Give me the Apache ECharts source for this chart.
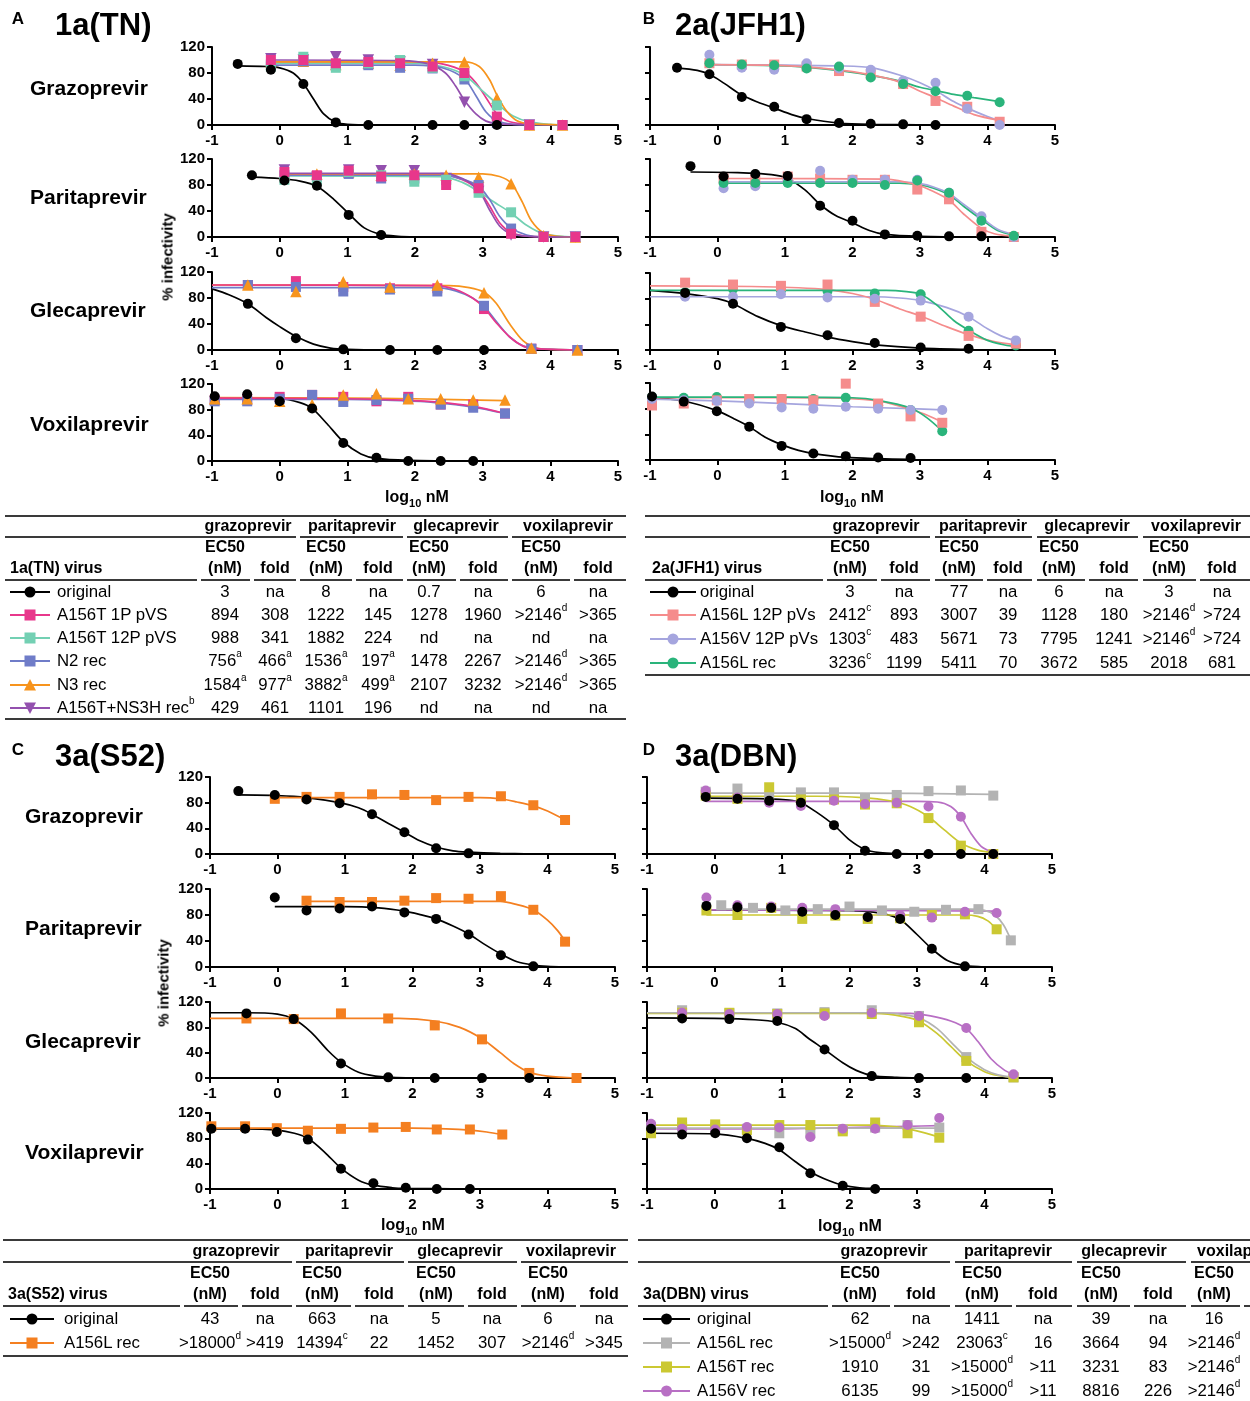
<!DOCTYPE html>
<html><head><meta charset="utf-8">
<script src="https://cdn.jsdelivr.net/npm/echarts/dist/echarts.min.js"></script>
<style>
html,body{margin:0;padding:0;background:#fff;}
body{width:1250px;height:1401px;overflow:hidden;position:relative;font-family:"Liberation Sans",Arial,sans-serif;color:#000;}
#chart{position:absolute;left:0;top:0;width:1250px;height:1401px;}
.t{position:absolute;white-space:nowrap;line-height:1;}
.c{transform:translate(-50%,-50%);}
.l{transform:translate(0,-50%);}
.b{font-weight:bold;}
.hl{position:absolute;background:#3a3a3a;}
sup{font-size:10px;vertical-align:top;position:relative;top:-4px;}
sub{font-size:11px;vertical-align:bottom;position:relative;top:4px;}
</style></head><body><div id="chart"></div><div id="ov"></div>
<script>
// ================= DATA =================
// ---- Panel A 1a(TN) ----
const xA_g_o=[-0.62,-0.13,0.35,0.83,1.31,2.26,2.73,3.21];
const yA_g_o=[94,85,63,4,0,0,0,0];
const cA_g_o=[[-0.62,91],[-0.2,90],[0,88],[0.2,80],[0.35,64],[0.5,40],[0.65,17],[0.83,4],[1.0,1],[1.4,0]];
const xA_g=[-0.13,0.35,0.83,1.31,1.78,2.26,2.73,3.21,3.69,4.18];
const yA_g_pink=[100,100,95,97,95,90,80,13,0,0];
const yA_g_teal=[90,105,88,95,100,88,75,30,0,0];
const yA_g_blue=[93,98,92,92,88,87,70,3,0,0];
const yA_g_orng=[97,98,93,95,92,95,97,41,0,0];
const yA_g_purp=[102,100,105,100,97,93,35,2,0,null];
const cA_g_pink=[[-0.13,97],[2.0,97],[2.4,94],[2.73,82],[2.9,65],[3.05,42],[3.22,16],[3.4,5],[3.69,1],[4.18,0]];
const cA_g_teal=[[-0.13,95],[2.0,95],[2.4,90],[2.73,77],[3.0,52],[3.22,32],[3.45,14],[3.69,5],[4.0,1],[4.18,0]];
const cA_g_blue=[[-0.13,92],[2.0,92],[2.4,88],[2.73,71],[2.9,45],[3.05,20],[3.22,6],[3.45,1],[3.69,0],[4.18,0]];
const cA_g_orng=[[-0.13,97],[2.73,97],[2.95,90],[3.1,70],[3.22,44],[3.35,22],[3.5,7],[3.69,2],[4.18,0]];
const cA_g_purp=[[-0.13,100],[1.8,99],[2.2,94],[2.45,80],[2.6,60],[2.73,38],[2.9,17],[3.05,6],[3.22,2],[3.69,0]];

const xA_p_o=[-0.41,0.07,0.55,1.02,1.50];
const yA_p_o=[95,87,79,34,3];
const cA_p_o=[[-0.41,92],[0,90],[0.3,86],[0.55,78],[0.8,58],[1.02,36],[1.25,14],[1.5,4],[1.75,1],[2.0,0]];
const xA_p=[0.07,0.55,1.02,1.50,1.99,2.46,2.94,3.42,3.90,4.37];
const yA_p_pink=[100,95,102,93,95,80,75,5,0,0];
const yA_p_teal=[88,88,100,95,85,88,68,38,0,0];
const yA_p_blue=[95,93,97,90,90,88,80,13,0,0];
const yA_p_orng=[97,97,100,95,97,95,92,82,2,0];
const yA_p_purp=[103,92,103,102,102,90,70,3,0,0];
const cA_p_pink=[[0.07,97],[2.4,96],[2.7,88],[2.94,72],[3.1,48],[3.25,22],[3.42,7],[3.7,1],[4.37,0]];
const cA_p_teal=[[0.07,94],[2.4,93],[2.7,84],[2.94,70],[3.15,55],[3.42,37],[3.65,18],[3.9,5],[4.37,0]];
const cA_p_blue=[[0.07,95],[2.4,95],[2.7,89],[2.94,78],[3.1,58],[3.25,32],[3.42,14],[3.65,3],[3.9,0],[4.37,0]];
const cA_p_orng=[[0.07,97],[3.0,97],[3.25,93],[3.42,83],[3.58,55],[3.72,25],[3.9,6],[4.1,1],[4.37,0]];
const cA_p_purp=[[0.07,98],[2.4,98],[2.7,90],[2.94,72],[3.1,42],[3.25,17],[3.42,5],[3.7,1],[4.37,0]];

const xA_l_o=[-0.47,0.24,0.94,1.63,2.33,3.02];
const yA_l_o=[71,18,1,0,0,0];
const cA_l_o=[[-1,94],[-0.75,85],[-0.47,71],[-0.2,50],[0,36],[0.24,21],[0.5,9],[0.75,3],[1.0,1],[1.5,0],[3.02,0]];
const xA_l=[-0.47,0.24,0.94,1.63,2.33,3.02,3.72,4.40];
const yA_l_pink=[100,106,97,95,95,63,2,0];
const yA_l_blue=[100,97,90,93,90,68,2,0];
const yA_l_orng=[100,90,105,97,100,88,3,0];
const cA_l_pink=[[-1,100],[2.3,99],[2.6,93],[2.85,80],[3.02,65],[3.2,42],[3.4,20],[3.6,6],[3.8,2],[4.40,0]];
const cA_l_blue=[[-1,96],[2.3,96],[2.6,91],[2.85,80],[3.02,67],[3.2,44],[3.4,20],[3.6,6],[3.8,2],[4.40,0]];
const cA_l_orng=[[-1,100],[2.5,99],[2.8,96],[3.02,89],[3.2,72],[3.4,40],[3.6,14],[3.8,3],[4.0,1],[4.40,0]];

const xA_v_o=[-0.96,-0.48,0,0.48,0.94,1.43,1.90,2.38,2.86];
const yA_v_o=[101,104,93,82,28,5,0,0,0];
const cA_v_o=[[-0.96,98],[0,97],[0.3,91],[0.48,82],[0.7,58],[0.94,30],[1.2,11],[1.43,4],[1.9,1],[2.86,0]];
const xA_v=[-0.96,-0.48,0,0.48,0.94,1.43,1.90,2.38,2.86,3.33];
const yA_v_pink=[95,97,100,103,100,93,100,88,88,74];
const yA_v_blue=[93,93,97,103,92,95,97,88,83,74];
const yA_v_orng=[97,97,93,88,103,105,97,97,95,95];
const cA_v_pink=[[-0.96,98],[1.0,97],[1.8,95],[2.3,92],[2.86,85],[3.33,74]];
const cA_v_blue=[[-0.96,96],[1.0,96],[1.8,94],[2.3,91],[2.86,84],[3.33,74]];
const cA_v_orng=[[-0.96,99],[1.0,98],[2.0,97],[3.33,94]];

// ---- Panel B 2a(JFH1) ----
const xB_g_o=[-0.60,-0.12,0.36,0.84,1.32,1.80,2.27,2.75,3.23];
const yB_g_o=[88,78,43,28,9,3,2,1,0];
const cB_g_o=[[-0.60,88],[-0.3,84],[-0.12,78],[0.1,64],[0.36,46],[0.6,35],[0.84,26],[1.1,16],[1.32,10],[1.8,3],[2.27,1],[3.23,0]];
const xB_g=[-0.12,0.36,0.84,1.32,1.80,2.27,2.75,3.23,3.70,4.18];
const yB_g_pink=[95,93,93,90,83,78,63,37,28,5];
const yB_g_lav=[108,88,85,95,87,85,68,65,25,0];
const yB_g_grn=[95,93,92,87,90,73,63,52,45,35];
const cB_g_pink=[[-0.12,93],[0.8,92],[1.5,88],[2.0,82],[2.5,72],[2.75,64],[3.0,52],[3.23,42],[3.5,29],[3.8,16],[4.18,7]];
const cB_g_lav=[[-0.12,93],[1.0,92],[1.8,91],[2.3,88],[2.75,75],[3.0,65],[3.23,53],[3.5,36],[3.7,26],[4.0,13],[4.18,6]];
const cB_g_grn=[[-0.12,93],[1.0,91],[1.5,87],[2.0,81],[2.5,72],[2.75,66],[3.0,58],[3.23,53],[3.5,47],[3.8,42],[4.18,36]];

const xB_p_o=[-0.40,0.09,0.56,1.04,1.52,2.00,2.48,2.96,3.43,3.91];
const yB_p_o=[109,93,97,94,48,25,4,2,1,1];
const cB_p_o=[[-0.40,100],[0.3,99],[0.8,96],[1.04,90],[1.3,72],[1.52,50],[1.75,33],[2.0,22],[2.25,10],[2.48,4],[3.0,1],[3.91,0]];
const xB_p=[0.09,0.56,1.04,1.52,2.00,2.48,2.96,3.43,3.91,4.39];
const yB_p_pink=[90,88,93,90,88,88,73,58,8,0];
const yB_p_lav=[75,78,88,102,88,88,88,68,32,0];
const yB_p_grn=[83,83,83,83,83,80,87,68,25,2];
const cB_p_pink=[[0.09,90],[2.5,89],[2.96,80],[3.2,70],[3.43,57],[3.65,35],[3.9,14],[4.1,5],[4.39,1]];
const cB_p_lav=[[0.09,85],[2.7,85],[3.0,82],[3.2,77],[3.43,67],[3.65,50],[3.91,30],[4.15,12],[4.39,4]];
const cB_p_grn=[[0.09,83],[2.7,83],[3.0,80],[3.2,75],[3.43,65],[3.65,47],[3.91,27],[4.15,10],[4.39,3]];

const xB_l_o=[-0.48,0.23,0.94,1.63,2.33,3.01,3.72];
const yB_l_o=[89,72,36,23,11,4,2];
const cB_l_o=[[-1,93],[-0.48,88],[0,80],[0.23,72],[0.6,52],[0.94,38],[1.3,28],[1.63,20],[2.0,13],[2.33,8],[3.01,3],[3.72,1]];
const xB_l=[-0.48,0.23,0.94,1.63,2.33,3.01,3.72,4.42];
const yB_l_pink=[105,102,100,102,75,52,22,10];
const yB_l_lav=[83,83,87,82,80,77,52,15];
const yB_l_grn=[90,95,93,92,88,87,30,7];
const cB_l_pink=[[-1,100],[0.5,99],[1.2,97],[1.63,94],[2.0,88],[2.33,79],[2.7,64],[3.01,53],[3.4,36],[3.72,24],[4.1,13],[4.42,8]];
const cB_l_lav=[[-1,83],[2.3,83],[2.7,81],[3.01,77],[3.4,66],[3.72,52],[4.0,33],[4.2,22],[4.42,14]];
const cB_l_grn=[[-1,93],[2.5,93],[2.8,91],[3.01,87],[3.25,70],[3.5,46],[3.72,31],[4.0,15],[4.2,9],[4.42,5]];

const xB_v_o=[-0.97,-0.50,-0.01,0.47,0.95,1.42,1.90,2.38,2.86];
const yB_v_o=[99,91,76,52,22,10,6,4,3];
const cB_v_o=[[-1,98],[-0.5,92],[-0.01,77],[0.25,64],[0.47,52],[0.7,36],[0.95,24],[1.2,15],[1.42,10],[1.9,4],[2.38,2],[2.86,1]];
const xB_v=[-0.97,-0.50,-0.01,0.47,0.95,1.42,1.90,2.38,2.86,3.33];
const yB_v_pink=[85,88,93,95,95,93,119,88,68,58];
const yB_v_lav=[95,93,92,88,82,80,83,80,78,78];
const yB_v_grn=[98,97,98,93,95,95,97,85,78,45];
const cB_v_pink=[[-0.97,97],[1.0,97],[1.9,96],[2.38,92],[2.7,84],[2.86,79],[3.1,70],[3.33,59]];
const cB_v_lav=[[-0.97,95],[0,92],[1.0,88],[2.0,83],[2.86,80],[3.33,78]];
const cB_v_grn=[[-0.97,98],[1.0,98],[2.0,97],[2.38,93],[2.86,81],[3.1,66],[3.33,45]];

// ---- Panel C 3a(S52) ----
const xC_g_o=[-0.58,-0.04,0.43,0.92,1.40,1.88,2.35,2.83];
const yC_g_o=[98,92,85,79,62,34,9,1];
const cC_g_o=[[-0.58,92],[0,91],[0.43,88],[0.92,80],[1.2,72],[1.4,62],[1.65,47],[1.88,34],[2.1,21],[2.35,11],[2.6,5],[2.83,3],[3.3,1],[3.8,0]];
const xC_g=[-0.04,0.43,0.92,1.40,1.88,2.35,2.83,3.31,3.79,4.26];
const yC_g_orng=[86,89,89,93,92,84,89,90,76,53];
const cC_g_orng=[[-0.04,88],[3.0,88],[3.31,86],[3.55,81],[3.79,75],[4.0,67],[4.26,53]];

const xC_p_o=[-0.04,0.43,0.92,1.40,1.88,2.35,2.83,3.31,3.79];
const yC_p_o=[107,87,90,93,84,74,50,18,1];
const cC_p_o=[[-0.04,93],[1.0,93],[1.5,91],[1.88,86],[2.1,81],[2.35,74],[2.6,63],[2.83,51],[3.05,36],[3.31,20],[3.55,8],[3.79,3],[4.0,1],[4.25,0]];
const xC_p=[0.43,0.92,1.40,1.88,2.35,2.83,3.31,3.79,4.26];
const yC_p_orng=[102,100,100,102,106,105,109,88,39];
const cC_p_orng=[[0.43,101],[3.3,101],[3.55,96],[3.79,88],[4.0,72],[4.15,56],[4.26,40]];

const xC_l_o=[-0.46,0.24,0.94,1.64,2.33,3.03,3.73];
const yC_l_o=[102,93,23,1,0,0,0];
const cC_l_o=[[-1,103],[-0.46,103],[0,101],[0.24,93],[0.5,72],[0.75,43],[0.94,25],[1.2,9],[1.45,3],[1.7,1],[2.0,0]];
const xC_l=[-0.46,0.24,0.94,1.64,2.33,3.03,3.73,4.43];
const yC_l_orng=[94,93,102,94,83,61,8,0];
const cC_l_orng=[[-1,94],[1.8,94],[2.33,90],[2.7,80],[3.03,62],[3.3,40],[3.5,23],[3.73,9],[4.0,3],[4.43,0]];

const xC_v_o=[-0.98,-0.48,-0.01,0.45,0.94,1.42,1.90,2.36,2.85];
const yC_v_o=[95,95,90,78,32,9,2,0,0];
const cC_v_o=[[-1,95],[-0.48,95],[0,93],[0.25,88],[0.45,80],[0.7,58],[0.94,33],[1.2,14],[1.42,6],[1.7,2],[1.9,1],[2.85,0]];
const xC_v=[-0.98,-0.48,-0.01,0.45,0.94,1.42,1.90,2.36,2.85,3.33];
const yC_v_orng=[99,99,96,92,95,97,98,94,94,86];
const cC_v_orng=[[-0.98,96],[2.0,96],[2.5,95],[2.85,93],[3.1,90],[3.33,86]];

// ---- Panel D 3a(DBN) ----
const xD_g_o=[-0.13,0.34,0.81,1.28,1.77,2.23,2.70,3.17,3.65,4.13];
const yD_g_o=[89,86,83,80,45,5,0,0,0,0];
const cD_g_o=[[-0.13,87],[0.8,86],[1.1,84],[1.28,80],[1.5,66],[1.77,45],[2.0,22],[2.23,7],[2.45,2],[2.7,0.5],[3.17,0]];
const xD_g=[-0.13,0.34,0.81,1.28,1.77,2.23,2.70,3.17,3.65,4.13];
const yD_g_grey=[97,102,90,96,96,87,92,98,99,91];
const yD_g_yel=[91,86,104,85,85,77,79,56,13,0];
const yD_g_pur=[99,88,80,75,83,78,80,74,58,0];
const cD_g_grey=[[-0.13,95],[2.0,95],[4.13,93]];
const cD_g_yel=[[-0.13,90],[1.5,90],[2.2,88],[2.6,83],[2.9,74],[3.17,58],[3.4,38],[3.65,17],[3.9,6],[4.13,2]];
const cD_g_pur=[[-0.13,82],[3.0,82],[3.3,81],[3.5,74],[3.65,58],[3.8,32],[3.95,12],[4.13,2]];

const xD_p_o=[-0.12,0.34,0.84,1.30,1.79,2.27,2.75,3.22,3.71];
const yD_p_o=[94,92,91,85,80,77,74,28,1];
const cD_p_o=[[-0.12,88],[1.5,87],[2.2,86],[2.5,82],[2.75,73],[3.0,50],[3.22,28],[3.45,10],[3.71,2],[4.0,0]];
const xD_p_g=[0.10,0.57,1.05,1.53,2.00,2.48,2.96,3.43,3.91,4.39];
const yD_p_grey=[95,91,87,89,93,87,85,88,89,41];
const xD_p=[-0.12,0.34,0.84,1.30,1.79,2.27,2.75,3.22,3.71,4.18];
const yD_p_yel=[87,80,91,74,79,74,75,80,81,58];
const yD_p_pur=[107,95,93,91,89,77,80,76,85,83];
const cD_p_grey=[[0.10,89],[3.8,89],[4.0,87],[4.15,80],[4.28,65],[4.39,42]];
const cD_p_yel=[[-0.12,80],[3.7,80],[3.9,78],[4.05,71],[4.18,58]];
const cD_p_pur=[[-0.12,88],[2.0,87],[4.18,86]];

const xD_l_o=[-0.48,0.22,0.93,1.63,2.33,3.03,3.73];
const yD_l_o=[94,93,90,45,3,0,0];
const cD_l_o=[[-1,95],[0,94],[0.6,92],[0.93,88],[1.2,78],[1.4,62],[1.63,45],[1.9,24],[2.1,12],[2.33,4],[2.7,1],[3.03,0]];
const xD_l=[-0.48,0.22,0.93,1.63,2.33,3.03,3.73,4.43];
const yD_l_grey=[107,102,102,104,107,98,33,1];
const yD_l_yel=[103,103,101,102,101,88,27,1];
const yD_l_pur=[103,101,101,98,103,98,79,6];
const cD_l_grey=[[-1,103],[2.5,103],[2.8,100],[3.03,95],[3.3,78],[3.5,57],[3.73,33],[4.0,13],[4.2,5],[4.43,1]];
const cD_l_yel=[[-1,102],[2.4,102],[2.8,97],[3.03,90],[3.3,70],[3.5,50],[3.73,27],[4.0,10],[4.2,4],[4.43,1]];
const cD_l_pur=[[-1,103],[2.9,102],[3.2,98],[3.5,90],[3.73,78],[3.9,58],[4.1,30],[4.3,12],[4.43,6]];

const xD_v_o=[-0.94,-0.48,0.01,0.48,0.96,1.42,1.90,2.38];
const yD_v_o=[95,86,88,80,66,25,5,0];
const cD_v_o=[[-1,88],[0,87],[0.48,80],[0.75,72],[0.96,62],[1.2,43],[1.42,27],[1.7,13],[1.9,6],[2.15,2],[2.38,1]];
const xD_v=[-0.94,-0.48,0.01,0.48,0.96,1.42,1.90,2.38,2.86,3.33];
const yD_v_grey=[98,98,97,95,88,88,94,97,101,97];
const yD_v_yel=[88,105,102,93,101,101,91,105,88,81];
const yD_v_pur=[103,95,94,98,97,82,95,95,101,112];
const cD_v_grey=[[-0.94,96],[3.33,96]];
const cD_v_yel=[[-0.94,101],[2.3,101],[2.7,98],[2.86,95],[3.1,89],[3.33,82]];
const cD_v_pur=[[-0.94,95],[1.0,95],[2.0,97],[2.86,99],[3.33,100]];

// ---- Tables ----
const drugs=['grazoprevir','paritaprevir','glecaprevir','voxilaprevir'];
const tA_names=['original','A156T 1P pVS','A156T 12P pVS','N2 rec','N3 rec','A156T+NS3H rec^b'];
const tA_vals=[
 ['3','na','8','na','0.7','na','6','na'],
 ['894','308','1222','145','1278','1960','>2146^d','>365'],
 ['988','341','1882','224','nd','na','nd','na'],
 ['756^a','466^a','1536^a','197^a','1478','2267','>2146^d','>365'],
 ['1584^a','977^a','3882^a','499^a','2107','3232','>2146^d','>365'],
 ['429','461','1101','196','nd','na','nd','na']];
const tB_names=['original','A156L 12P pVs','A156V 12P pVs','A156L rec'];
const tB_vals=[
 ['3','na','77','na','6','na','3','na'],
 ['2412^c','893','3007','39','1128','180','>2146^d','>724'],
 ['1303^c','483','5671','73','7795','1241','>2146^d','>724'],
 ['3236^c','1199','5411','70','3672','585','2018','681']];
const tC_names=['original','A156L rec'];
const tC_vals=[
 ['43','na','663','na','5','na','6','na'],
 ['>18000^d','>419','14394^c','22','1452','307','>2146^d','>345']];
const tD_names=['original','A156L rec','A156T rec','A156V rec'];
const tD_vals=[
 ['62','na','1411','na','39','na','16'],
 ['>15000^d','>242','23063^c','16','3664','94','>2146^d'],
 ['1910','31','>15000^d','>11','3231','83','>2146^d'],
 ['6135','99','>15000^d','>11','8816','226','>2146^d']];

// ================= STYLE / LAYOUT =================
const K='#000000', PINK='#E8378B', TEAL='#73D0B3', BLUE='#6F7CC8', ORNG='#F7941D', PURP='#9350AE',
 SALM='#F58C8C', LAV='#A5A5DE', GRN='#2AB47B', ORC='#F47F20', GREY='#B3B3B3', YEL='#CBC832', ORCH='#B86FC4';
const FONT='"Liberation Sans", Arial, sans-serif';
const BODY='16.8px';
const PAN=[
 {left:212,w:406,tops:[47,159,272,384],bots:[125,237,350,461],yl:true},
 {left:650,w:405,tops:[47,159,273,383],bots:[125,237,350,460],yl:false},
 {left:210,w:405,tops:[777,889,1002,1113],bots:[854,967,1078,1189],yl:true},
 {left:647,w:405,tops:[777,889,1002,1113],bots:[854,967,1078,1189],yl:false}];

const grids=[],xAxes=[],yAxes=[],series=[];
function S(col,sym,x,y,c,rot){return {col,sym,x,y,c,rot};}
function plot(p,row,list){
 const P=PAN[p],gi=grids.length;
 grids.push({left:P.left,top:P.tops[row],width:P.w,height:P.bots[row]-P.tops[row]});
 xAxes.push({type:'value',gridIndex:gi,min:-1,max:5,interval:1,
  axisLine:{show:true,onZero:false,lineStyle:{color:'#000',width:2}},
  axisTick:{show:true,length:5,lineStyle:{color:'#000',width:2}},
  axisLabel:{color:'#000',fontWeight:'bold',fontSize:15,fontFamily:FONT,margin:8},
  splitLine:{show:false}});
 yAxes.push({type:'value',gridIndex:gi,min:0,max:120,interval:40,
  axisLine:{show:true,onZero:false,lineStyle:{color:'#000',width:2}},
  axisTick:{show:true,length:5,lineStyle:{color:'#000',width:2}},
  axisLabel:{show:P.yl,color:'#000',fontWeight:'bold',fontSize:15,fontFamily:FONT,margin:7},
  splitLine:{show:false}});
 list.forEach(s=>series.push({type:'line',xAxisIndex:gi,yAxisIndex:gi,data:s.c,showSymbol:false,
  smooth:0.3,lineStyle:{color:s.col,width:1.7},z:2,silent:true,animation:false}));
 list.slice().reverse().forEach(s=>{
  const d=s.x.map((x,i)=>[x,s.y[i]]).filter(v=>v[1]!=null);
  const sz=s.sym==='circle'?10:(s.sym==='rect'?10:11.5);
  series.push({type:'scatter',xAxisIndex:gi,yAxisIndex:gi,data:d,symbol:s.sym,symbolSize:sz,
   symbolRotate:s.rot||0,itemStyle:{color:s.col,opacity:1},z:3,clip:false,silent:true,animation:false});
 });
}
// Panel A
plot(0,0,[S(K,'circle',xA_g_o,yA_g_o,cA_g_o),S(PINK,'rect',xA_g,yA_g_pink,cA_g_pink),S(TEAL,'rect',xA_g,yA_g_teal,cA_g_teal),S(BLUE,'rect',xA_g,yA_g_blue,cA_g_blue),S(ORNG,'triangle',xA_g,yA_g_orng,cA_g_orng),S(PURP,'triangle',xA_g,yA_g_purp,cA_g_purp,180)]);
plot(0,1,[S(K,'circle',xA_p_o,yA_p_o,cA_p_o),S(PINK,'rect',xA_p,yA_p_pink,cA_p_pink),S(TEAL,'rect',xA_p,yA_p_teal,cA_p_teal),S(BLUE,'rect',xA_p,yA_p_blue,cA_p_blue),S(ORNG,'triangle',xA_p,yA_p_orng,cA_p_orng),S(PURP,'triangle',xA_p,yA_p_purp,cA_p_purp,180)]);
plot(0,2,[S(K,'circle',xA_l_o,yA_l_o,cA_l_o),S(ORNG,'triangle',xA_l,yA_l_orng,cA_l_orng),S(BLUE,'rect',xA_l,yA_l_blue,cA_l_blue),S(PINK,'rect',xA_l,yA_l_pink,cA_l_pink)]);
plot(0,3,[S(K,'circle',xA_v_o,yA_v_o,cA_v_o),S(ORNG,'triangle',xA_v,yA_v_orng,cA_v_orng),S(BLUE,'rect',xA_v,yA_v_blue,cA_v_blue),S(PINK,'rect',xA_v,yA_v_pink,cA_v_pink)]);
// Panel B
plot(1,0,[S(K,'circle',xB_g_o,yB_g_o,cB_g_o),S(GRN,'circle',xB_g,yB_g_grn,cB_g_grn),S(LAV,'circle',xB_g,yB_g_lav,cB_g_lav),S(SALM,'rect',xB_g,yB_g_pink,cB_g_pink)]);
plot(1,1,[S(K,'circle',xB_p_o,yB_p_o,cB_p_o),S(GRN,'circle',xB_p,yB_p_grn,cB_p_grn),S(LAV,'circle',xB_p,yB_p_lav,cB_p_lav),S(SALM,'rect',xB_p,yB_p_pink,cB_p_pink)]);
plot(1,2,[S(K,'circle',xB_l_o,yB_l_o,cB_l_o),S(LAV,'circle',xB_l,yB_l_lav,cB_l_lav),S(SALM,'rect',xB_l,yB_l_pink,cB_l_pink),S(GRN,'circle',xB_l,yB_l_grn,cB_l_grn)]);
plot(1,3,[S(K,'circle',xB_v_o,yB_v_o,cB_v_o),S(LAV,'circle',xB_v,yB_v_lav,cB_v_lav),S(SALM,'rect',xB_v,yB_v_pink,cB_v_pink),S(GRN,'circle',xB_v,yB_v_grn,cB_v_grn)]);
// Panel C
plot(2,0,[S(K,'circle',xC_g_o,yC_g_o,cC_g_o),S(ORC,'rect',xC_g,yC_g_orng,cC_g_orng)]);
plot(2,1,[S(K,'circle',xC_p_o,yC_p_o,cC_p_o),S(ORC,'rect',xC_p,yC_p_orng,cC_p_orng)]);
plot(2,2,[S(K,'circle',xC_l_o,yC_l_o,cC_l_o),S(ORC,'rect',xC_l,yC_l_orng,cC_l_orng)]);
plot(2,3,[S(K,'circle',xC_v_o,yC_v_o,cC_v_o),S(ORC,'rect',xC_v,yC_v_orng,cC_v_orng)]);
// Panel D
plot(3,0,[S(K,'circle',xD_g_o,yD_g_o,cD_g_o),S(ORCH,'circle',xD_g,yD_g_pur,cD_g_pur),S(YEL,'rect',xD_g,yD_g_yel,cD_g_yel),S(GREY,'rect',xD_g,yD_g_grey,cD_g_grey)]);
plot(3,1,[S(K,'circle',xD_p_o,yD_p_o,cD_p_o),S(ORCH,'circle',xD_p,yD_p_pur,cD_p_pur),S(YEL,'rect',xD_p,yD_p_yel,cD_p_yel),S(GREY,'rect',xD_p_g,yD_p_grey,cD_p_grey)]);
plot(3,2,[S(K,'circle',xD_l_o,yD_l_o,cD_l_o),S(ORCH,'circle',xD_l,yD_l_pur,cD_l_pur),S(YEL,'rect',xD_l,yD_l_yel,cD_l_yel),S(GREY,'rect',xD_l,yD_l_grey,cD_l_grey)]);
plot(3,3,[S(K,'circle',xD_v_o,yD_v_o,cD_v_o),S(ORCH,'circle',xD_v,yD_v_pur,cD_v_pur),S(YEL,'rect',xD_v,yD_v_yel,cD_v_yel),S(GREY,'rect',xD_v,yD_v_grey,cD_v_grey)]);

const chart=echarts.init(document.getElementById('chart'),null,{renderer:'canvas'});
chart.setOption({animation:false,backgroundColor:'#fff',grid:grids,xAxis:xAxes,yAxis:yAxes,series:series});

// ================= TEXT OVERLAY =================
const ov=document.getElementById('ov');
function txt(s,x,y,cls,style){const d=document.createElement('div');d.className='t '+cls;d.innerHTML=s;d.style.left=x+'px';d.style.top=y+'px';if(style)Object.assign(d.style,style);ov.appendChild(d);return d;}
function hl(x0,x1,y,h){const d=document.createElement('div');d.className='hl';d.style.left=x0+'px';d.style.width=(x1-x0)+'px';d.style.top=(y-h/2)+'px';d.style.height=h+'px';ov.appendChild(d);}
function fmt(s){return s.replace(/\^(\w)/g,'<sup>$1</sup>');}

[['A',18,18,'1a(TN)',55,24],['B',649,18,'2a(JFH1)',675,24],['C',18,749,'3a(S52)',55,755],['D',649,749,'3a(DBN)',675,755]].forEach(a=>{
 txt(a[0],a[1],a[2],'c b',{fontSize:17+'px'});
 txt(a[3],a[4],a[5],'l b',{fontSize:31+'px'});
});
const rowNames=['Grazoprevir','Paritaprevir','Glecaprevir','Voxilaprevir'];
[87,196,309,423].forEach((y,i)=>txt(rowNames[i],30,y,'l b',{fontSize:'21px'}));
[815,927,1040,1151].forEach((y,i)=>txt(rowNames[i],25,y,'l b',{fontSize:'21px'}));
txt('% infectivity',167,257,'b',{fontSize:'15px',transform:'translate(-50%,-50%) rotate(-90deg)'});
txt('% infectivity',163,983,'b',{fontSize:'15px',transform:'translate(-50%,-50%) rotate(-90deg)'});
[[417,497],[852,497],[413,1225],[850,1226]].forEach(p=>txt('log<sub>10</sub> nM',p[0],p[1],'c b',{fontSize:'16px'}));

function legendSvg(w,col,sym){
 const m=w/2;let mk='';
 if(sym==='circle')mk=`<circle cx="${m}" cy="7" r="5.5" fill="${col}"/>`;
 else if(sym==='rect')mk=`<rect x="${m-5.5}" y="1.5" width="11" height="11" fill="${col}"/>`;
 else if(sym==='tri')mk=`<polygon points="${m-6},12.5 ${m+6},12.5 ${m},1" fill="${col}"/>`;
 else mk=`<polygon points="${m-6},1.5 ${m+6},1.5 ${m},13" fill="${col}"/>`;
 return `<svg width="${w}" height="14" style="display:block"><line x1="0" y1="7" x2="${w}" y2="7" stroke="${col}" stroke-width="2.2"/>${mk}</svg>`;
}
function table(T,names,vals,cols,syms){
 hl(T.x0,T.x1,T.top,2);
 T.drugs.forEach((x,i)=>txt(drugs[i],x,T.hdr,'c b',{fontSize:'16px'}));
 T.l2.forEach(s=>hl(s[0],s[1],T.l2y,1.5));
 for(let k=0;k<4;k++){
  if(T.cols[2*k]!==undefined){txt('EC50',T.cols[2*k],T.ec,'c b',{fontSize:'16px'});txt('(nM)',T.cols[2*k],T.nm,'c b',{fontSize:'16px'});}
  if(T.cols[2*k+1]!==undefined)txt('fold',T.cols[2*k+1],T.nm,'c b',{fontSize:'16px'});
 }
 txt(T.label,T.labX,T.nm,'l b',{fontSize:'16px'});
 T.l3.forEach(s=>hl(s[0],s[1],T.l3y,1.5));
 T.rows.forEach((y,r)=>{
  txt(legendSvg(T.legX1-T.legX0,cols[r],syms[r]),T.legX0,y,'l',{});
  txt(fmt(names[r]),T.nameX,y,'l',{fontSize:BODY});
  vals[r].forEach((v,c)=>txt(fmt(v),T.cols[c],y,'c',{fontSize:BODY}));
 });
 if(T.bot)hl(T.x0,T.x1,T.bot,2);
}
table({x0:5,x1:626,top:516,hdr:526,l2y:537,ec:547,nm:568,l3y:580,bot:719,rows:[592,615,638,661,685,708],
 cols:[225,275,326,378,429,483,541,598],drugs:[248,352,456,568],label:'1a(TN) virus',labX:10,legX0:10,legX1:50,nameX:57,
 l2:[[5,296],[300,403],[407,508],[512,626]],
 l3:[[5,197],[201,250],[254,296],[300,352],[356,403],[407,456],[460,508],[512,570],[574,626]]},
 tA_names,tA_vals,[K,PINK,TEAL,BLUE,ORNG,PURP],['circle','rect','rect','rect','tri','inv']);
table({x0:645,x1:1250,top:516,hdr:526,l2y:537,ec:547,nm:568,l3y:580,bot:675,rows:[592,615,639,663],
 cols:[850,904,959,1008,1059,1114,1169,1222],drugs:[876,983,1087,1196],label:'2a(JFH1) virus',labX:652,legX0:650,legX1:696,nameX:700,
 l2:[[645,930],[935,1032],[1037,1138],[1143,1250]],
 l3:[[645,823],[827,877],[881,930],[935,983],[987,1032],[1037,1085],[1089,1138],[1143,1196],[1200,1250]]},
 tB_names,tB_vals,[K,SALM,LAV,GRN],['circle','rect','circle','circle']);
table({x0:3,x1:628,top:1240,hdr:1251,l2y:1262,ec:1273,nm:1294,l3y:1306,bot:1356,rows:[1319,1343],
 cols:[210,265,322,379,436,492,548,604],drugs:[236,349,460,571],label:'3a(S52) virus',labX:8,legX0:10,legX1:54,nameX:64,
 l2:[[3,292],[296,404],[408,517],[521,628]],
 l3:[[3,180],[184,238],[242,292],[296,351],[355,404],[408,464],[468,517],[521,576],[580,628]]},
 tC_names,tC_vals,[K,ORC],['circle','rect']);
table({x0:638,x1:1250,top:1240,hdr:1251,l2y:1262,ec:1273,nm:1294,l3y:1306,bot:null,rows:[1319,1343,1367,1391],
 cols:[860,921,982,1043,1101,1158,1214],drugs:[884,1008,1124,1242],label:'3a(DBN) virus',labX:643,legX0:643,legX1:690,nameX:697,
 l2:[[638,950],[955,1072],[1077,1186],[1191,1250]],
 l3:[[638,828],[832,890],[894,950],[955,1012],[1016,1072],[1077,1130],[1134,1186],[1191,1240],[1244,1250]]},
 tD_names,tD_vals,[K,GREY,YEL,ORCH],['circle','rect','rect','circle']);
</script></body></html>
